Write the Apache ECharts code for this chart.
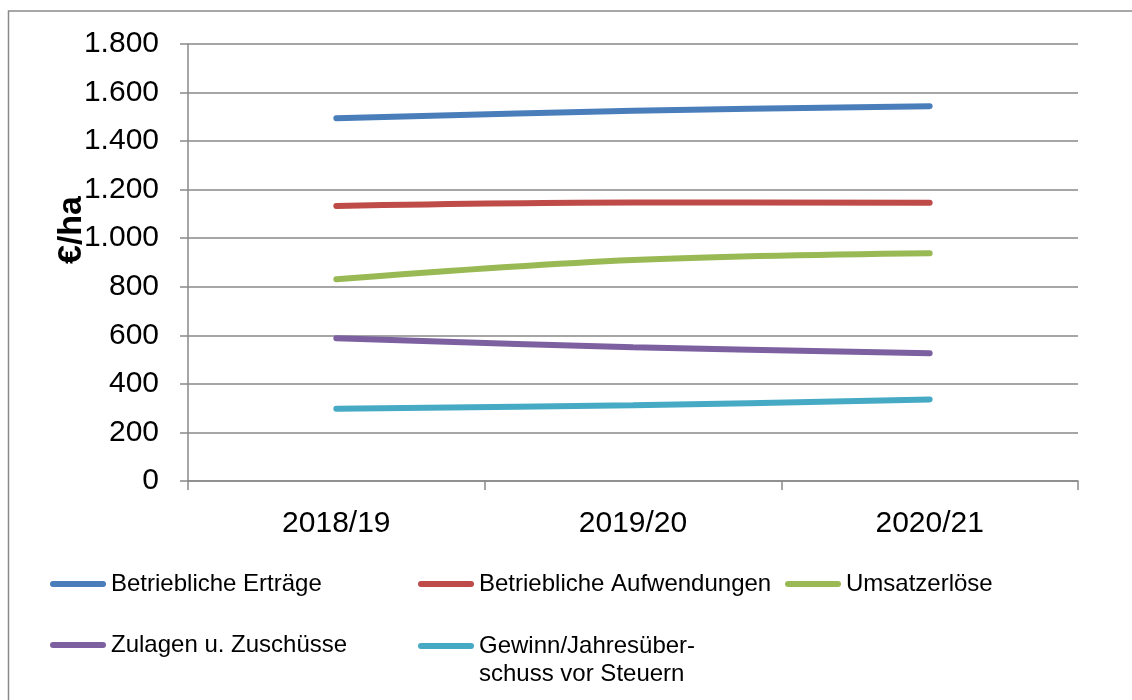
<!DOCTYPE html>
<html>
<head>
<meta charset="utf-8">
<script src="https://cdn.jsdelivr.net/npm/echarts@6/dist/echarts.min.js"></script>
<style>
  html, body { margin: 0; padding: 0; background: #fff; }
  #chart { width: 1132px; height: 700px; }
</style>
</head>
<body>
<div id="chart"></div>
<script>
// Daten
const categories = ['2018/19', '2019/20', '2020/21']
const ertraege = [1494, 1525, 1544]
const aufwendungen = [1133, 1147, 1146]
const umsatzerloese = [831, 910, 938]
const zulagen = [588, 551, 526]
const gewinn = [298, 312, 336]
const yTicks = { min: 0, max: 1800, interval: 200 }

const font = 'Liberation Sans, Arial, sans-serif'
const gridColor = '#898989'
const linePath = 'path://M3,0H53A3,3,0,0,1,53,6H3A3,3,0,0,1,3,0Z'

function deNumber (v) {
  return String(v).replace(/\B(?=(\d{3})+(?!\d))/g, '.')
}

function legendAt (name, left, top, extra) {
  return Object.assign({
    data: [name],
    left: left,
    top: top,
    padding: 0,
    icon: linePath,
    itemWidth: 56,
    itemHeight: 6,
    selectedMode: false,
    textStyle: { fontFamily: font, fontSize: 24, color: '#000' }
  }, extra || {})
}

function mkSeries (name, data, color) {
  return {
    name: name,
    type: 'line',
    data: data,
    smooth: 0.35,
    symbol: 'none',
    lineStyle: { width: 6, color: color, cap: 'round' },
    itemStyle: { color: color },
    animation: false
  }
}

const chart = echarts.init(document.getElementById('chart'))
chart.setOption({
  backgroundColor: '#fff',
  animation: false,
  graphic: [
    { // Rahmen
      type: 'rect',
      shape: { x: 8.5, y: 11, width: 1140, height: 700 },
      style: { fill: 'none', stroke: '#8a8a8a', lineWidth: 1.5 },
      silent: true
    },
    { // Achsentitel
      type: 'text',
      x: 72,
      y: 230,
      rotation: Math.PI / 2,
      style: {
        text: '€/ha',
        fontFamily: font,
        fontSize: 34,
        fontWeight: 'bold',
        fill: '#000',
        align: 'center',
        verticalAlign: 'middle'
      }
    }
  ],
  grid: { left: 188, right: 54, top: 44, bottom: 219 },
  legend: [
    legendAt('Betriebliche Erträge', 50, 572),
    legendAt('Betriebliche Aufwendungen', 418, 572),
    legendAt('Umsatzerlöse', 785, 572),
    legendAt('Zulagen u. Zuschüsse', 50, 633),
    // leere erste Zeile, damit die Linie auf Höhe der ersten Textzeile steht
    legendAt('Gewinn/Jahresüberschuss vor Steuern', 418, 604, {
      formatter: function () { return '\nGewinn/Jahresüber-\nschuss vor Steuern' },
      textStyle: { fontFamily: font, fontSize: 24, color: '#000', lineHeight: 28 }
    })
  ],
  xAxis: {
    type: 'category',
    data: categories,
    boundaryGap: true,
    axisLine: { lineStyle: { color: gridColor, width: 1.5 } },
    axisTick: { show: true, length: 9, lineStyle: { color: gridColor, width: 1.5 } },
    axisLabel: { color: '#000', fontFamily: font, fontSize: 30, margin: 28 },
    splitLine: { show: false }
  },
  yAxis: {
    type: 'value',
    min: yTicks.min,
    max: yTicks.max,
    interval: yTicks.interval,
    axisLine: { show: true, lineStyle: { color: gridColor, width: 1.5 } },
    axisTick: { show: true, inside: false, length: 8, lineStyle: { color: gridColor, width: 1.5 } },
    axisLabel: {
      color: '#000',
      fontFamily: font,
      fontSize: 30,
      margin: 29,
      formatter: deNumber
    },
    splitLine: { show: true, lineStyle: { color: gridColor, width: 1.5 } }
  },
  series: [
    mkSeries('Betriebliche Erträge', ertraege, '#4a7ebb'),
    mkSeries('Betriebliche Aufwendungen', aufwendungen, '#be4b48'),
    mkSeries('Umsatzerlöse', umsatzerloese, '#98b954'),
    mkSeries('Zulagen u. Zuschüsse', zulagen, '#7d60a0'),
    mkSeries('Gewinn/Jahresüberschuss vor Steuern', gewinn, '#46aac5')
  ]
})
</script>
</body>
</html>
